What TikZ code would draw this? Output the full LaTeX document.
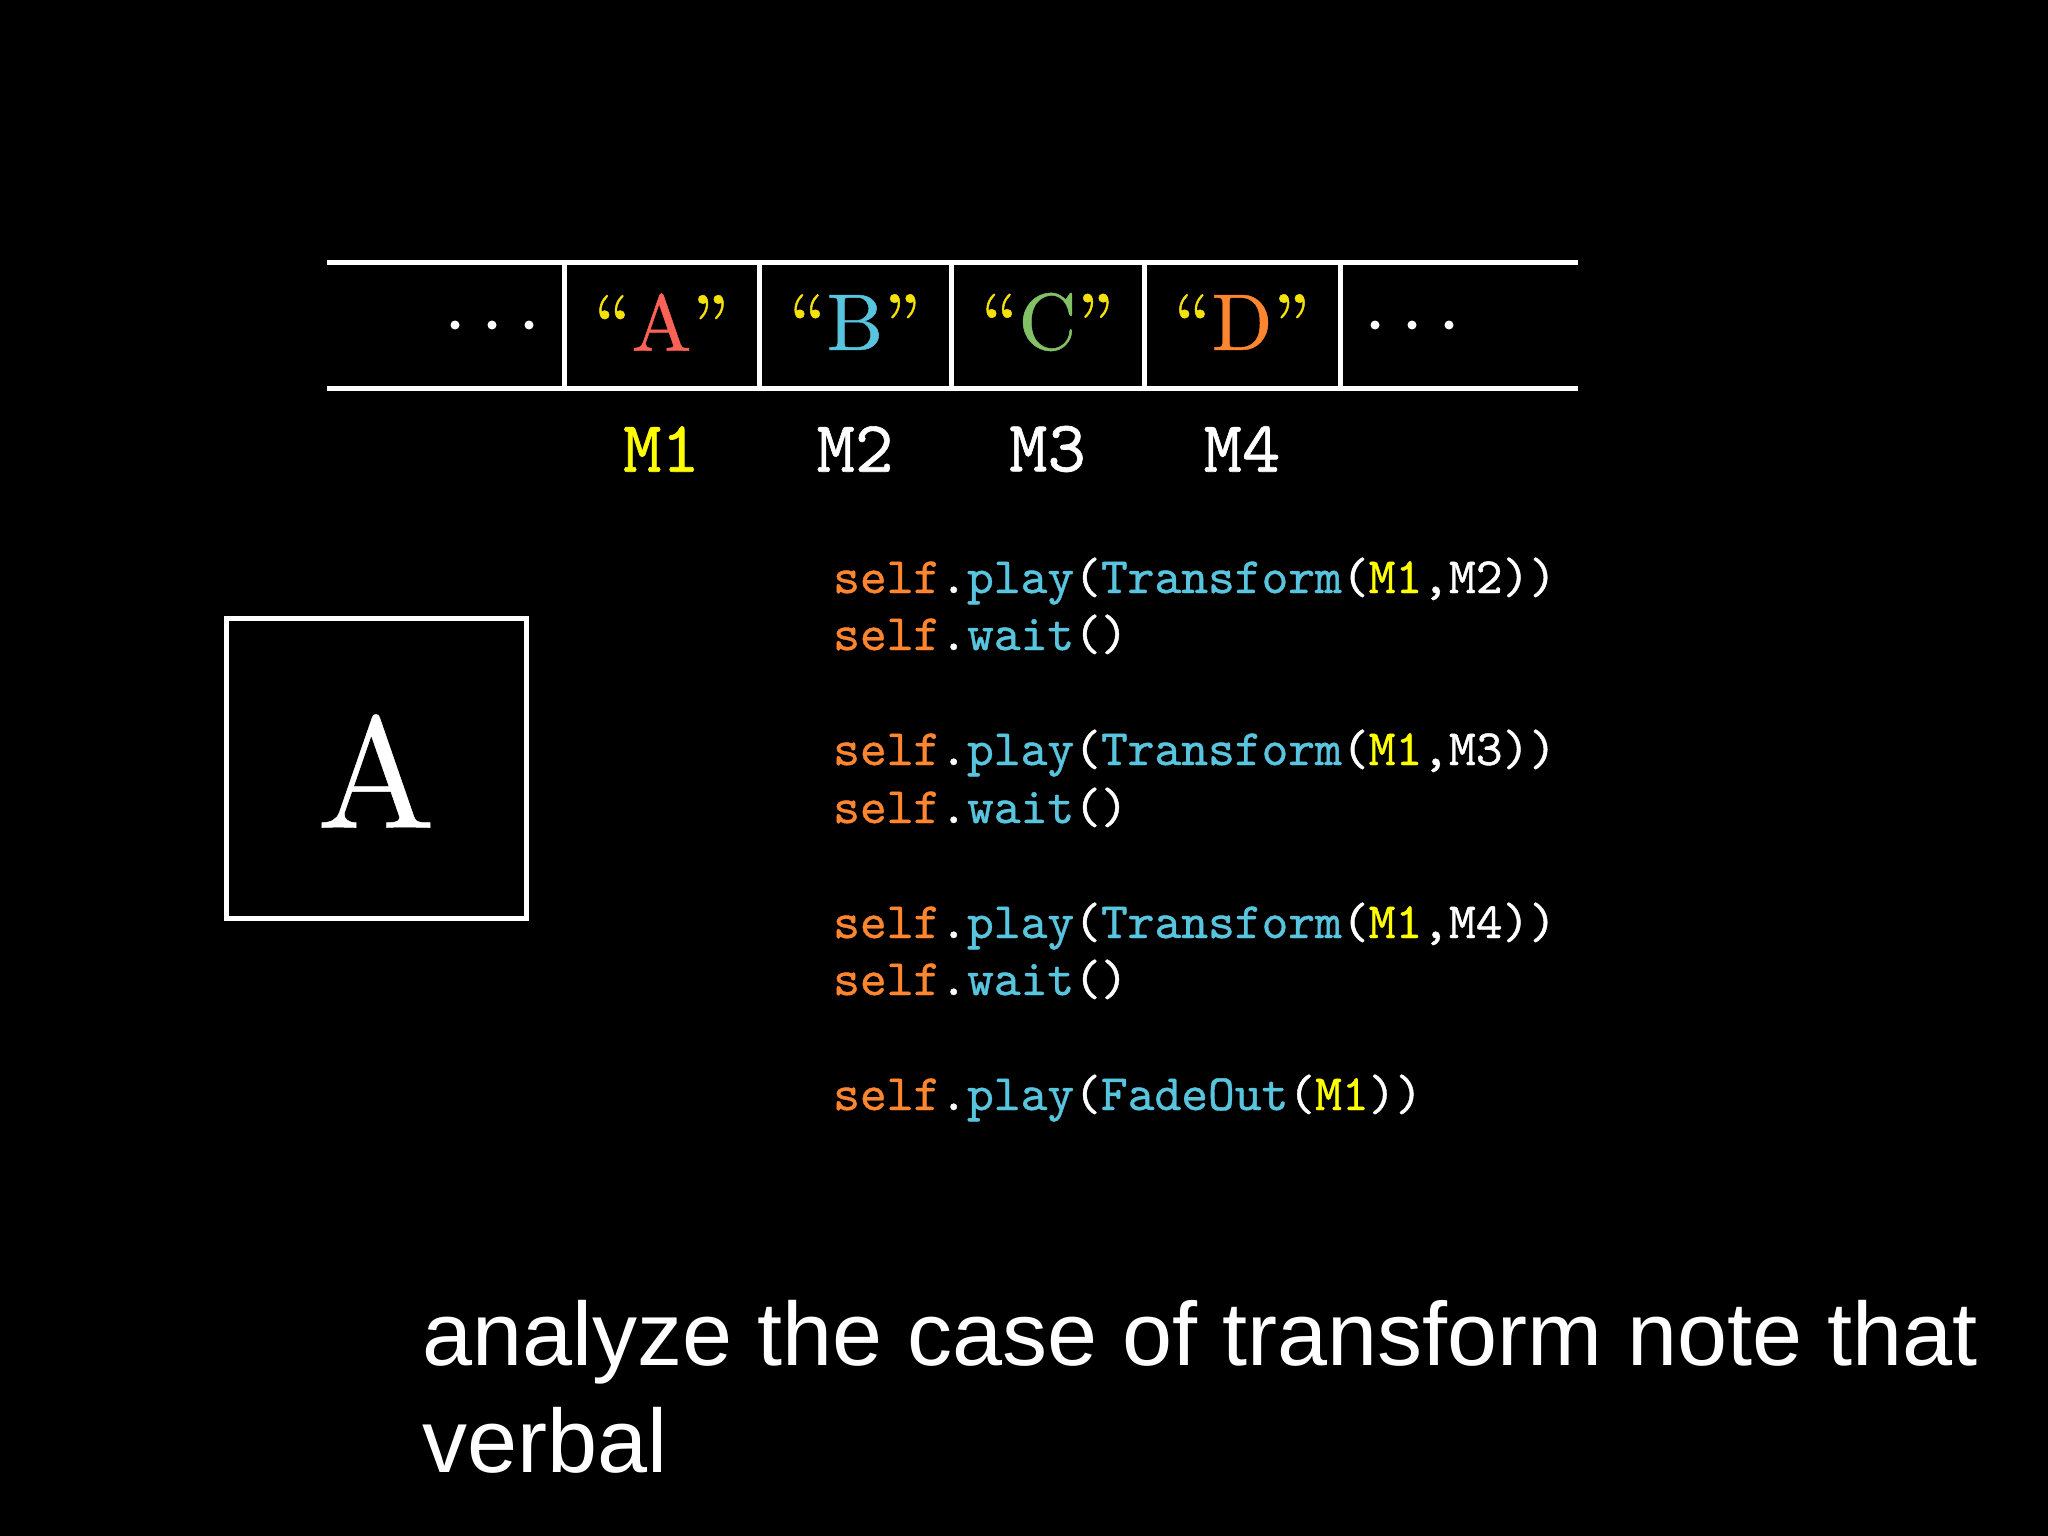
\documentclass[tikz,border=0pt]{standalone}
\usepackage{fontspec}
\setsansfont{Liberation Sans}
\newfontfamily\codefont{lmmono10-regular.otf}[FakeBold=0.8]
\newfontfamily\cellfont{lmroman10-regular.otf}[FakeBold=0.6,Ligatures=TeX]
\newfontfamily\bigfont{lmroman10-regular.otf}[FakeBold=0.3]
\definecolor{mred}{HTML}{FC6255}
\definecolor{mblue}{HTML}{58C4DD}
\definecolor{mgreen}{HTML}{83C167}
\definecolor{morange}{HTML}{FF862F}
\definecolor{myellow}{HTML}{FFFF00}
\definecolor{qyellow}{HTML}{F4E20A}
\newcommand{\cellq}[2]{{\color{qyellow}“}{\color{#1}#2}{\color{qyellow}”}}
\newcommand{\slf}{{\color{morange}self}.}
\begin{document}
\begin{tikzpicture}[x=1pt,y=-1pt,
  tapeline/.style={draw=white,line width=5pt},
  tapedot/.style={circle,fill=white,inner sep=0pt,minimum size=9pt},
  celltext/.style={text=white,font=\cellfont\fontsize{80}{90}\selectfont,inner sep=0pt,anchor=center},
  mlabel/.style={text=white,font=\codefont\fontsize{73}{80}\selectfont,inner sep=0pt,anchor=center},
  codeline/.style={text=white,font=\codefont\fontsize{51}{60}\selectfont,inner sep=0pt,anchor=base west},
  subtitle/.style={text=white,font=\sffamily\fontsize{90}{100}\selectfont,inner sep=0pt,anchor=base west}]
\fill[black] (0,0) rectangle (2048,1536);
\useasboundingbox (0,0) rectangle (2048,1536);
% tape
\coordinate (tl) at (326.5,262.5);
\coordinate (tr) at (1578,262.5);
\coordinate (bl) at (326.5,388);
\coordinate (br) at (1578,388);
\draw[tapeline] (tl) -- (tr);
\draw[tapeline] (bl) -- (br);
\foreach \x/\n in {564/d1,759/d2,951/d3,1144/d4,1340/d5}{
  \coordinate (\n t) at (\x,262.5);
  \coordinate (\n b) at (\x,388);
  \draw[tapeline] (\n t) -- (\n b);
}
\foreach \x/\n in {455/l1,492/l2,529/l3,1375/r1,1412/r2,1449/r3}{
  \node[tapedot] (dot\n) at (\x,325) {};
}
\node[celltext] (cA) at (661.5,322) {\cellq{mred}{A}};
\node[celltext] (cB) at (855,322) {\cellq{mblue}{B}};
\node[celltext] (cC) at (1047.5,322) {\cellq{mgreen}{C}};
\node[celltext] (cD) at (1242,322) {\cellq{morange}{D}};
% labels
\node[mlabel,text=myellow] (m1) at (661.5,449) {M1};
\node[mlabel] (m2) at (855,449) {M2};
\node[mlabel] (m3) at (1047.5,449) {M3};
\node[mlabel] (m4) at (1242,449) {M4};
% box
\node[draw=white,line width=5pt,minimum width=300pt,minimum height=300pt,inner sep=0pt] (box) at (376,768) {};
\node[text=white,font=\bigfont\fontsize{158}{170}\selectfont,inner sep=0pt] (bigA) at (376,771) {A};
% code
\node[codeline] (c1) at (833,593) {\slf{\color{mblue}play}(\color{mblue}Transform\color{white}({\color{myellow}M1},M2))};
\node[codeline] (c2) at (833,650) {\slf{\color{mblue}wait}()};
\node[codeline] (c3) at (833,765) {\slf{\color{mblue}play}(\color{mblue}Transform\color{white}({\color{myellow}M1},M3))};
\node[codeline] (c4) at (833,823) {\slf{\color{mblue}wait}()};
\node[codeline] (c5) at (833,938) {\slf{\color{mblue}play}(\color{mblue}Transform\color{white}({\color{myellow}M1},M4))};
\node[codeline] (c6) at (833,995) {\slf{\color{mblue}wait}()};
\node[codeline] (c7) at (833,1110) {\slf{\color{mblue}play}(\color{mblue}FadeOut\color{white}({\color{myellow}M1}))};
% subtitle
\node[subtitle] (s1) at (422,1365) {analyze the case of transform note that};
\node[subtitle] (s2) at (422,1472) {verbal};
\end{tikzpicture}
\end{document}
